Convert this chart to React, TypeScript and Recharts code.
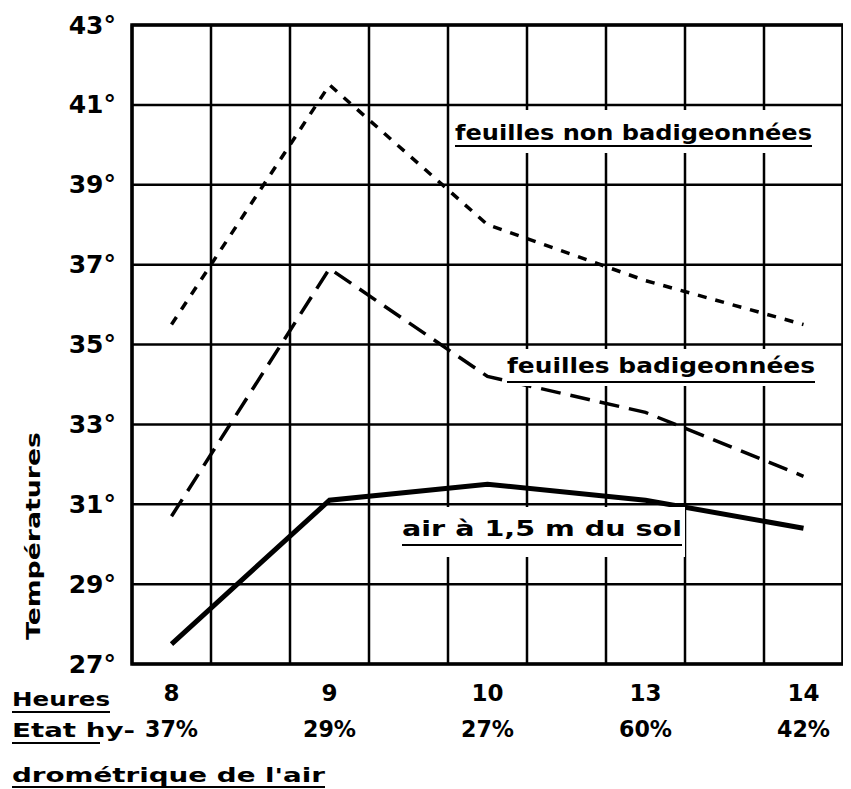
import React from "react";
import { LineChart, Line, XAxis, YAxis, CartesianGrid } from "recharts";

const hours = ["8", "9", "10", "13", "14"];
const humidity = ["37%", "29%", "27%", "60%", "42%"];
const nonBadigeonnees = [35.5, 41.5, 38.0, 36.6, 35.5];
const badigeonnees = [30.7, 36.9, 34.2, 33.3, 31.7];
const airSol = [27.5, 31.1, 31.5, 31.1, 30.4];
const yTicks = [27, 29, 31, 33, 35, 37, 39, 41, 43];

const data = hours.map((h, i) => ({
  hour: h,
  non: nonBadigeonnees[i],
  bad: badigeonnees[i],
  air: airSol[i],
}));

const FONT = "'DejaVu Sans', sans-serif";
const W = 843;
const H = 781;
const MARGIN = { top: 17, right: 8, bottom: 15, left: 24 };
const Y_AXIS_W = 100;
const X_AXIS_H = 110;
const COLS = 9;

const YTick = (props: any) => {
  const { x, y, payload } = props;
  return (
    <text x={x} y={y} textAnchor="end" dominantBaseline="central" fontFamily={FONT} fontWeight="bold" fontSize={25} fill="#000">
      {payload.value}°
    </text>
  );
};

const XTick = (props: any) => {
  const { x, y, payload } = props;
  const i = hours.indexOf(payload.value);
  return (
    <g>
      <text x={x} y={y + 29} textAnchor="middle" dominantBaseline="central" fontFamily={FONT} fontWeight="bold" fontSize={23} fill="#000">
        {payload.value}
      </text>
      <text x={x} y={y + 65} textAnchor="middle" dominantBaseline="central" textLength={53} lengthAdjust="spacingAndGlyphs" fontFamily={FONT} fontWeight="bold" fontSize={23} fill="#000">
        {humidity[i]}
      </text>
    </g>
  );
};

const Annot = ({ box, text, x1, x2, base, ul, size }: any) => (
  <g>
    <rect x={box[0]} y={box[1]} width={box[2]} height={box[3]} fill="#fff" />
    <text x={x1} y={base} textLength={x2 - x1} lengthAdjust="spacingAndGlyphs" fontFamily={FONT} fontWeight="bold" fontSize={size} fill="#000">
      {text}
    </text>
    <line x1={x1} x2={x2} y1={ul} y2={ul} stroke="#000" strokeWidth={2} />
  </g>
);

export default function App() {
  const plotL = MARGIN.left + Y_AXIS_W;
  const plotT = MARGIN.top;
  const plotW = W - plotL - MARGIN.right;
  const plotH = H - MARGIN.top - MARGIN.bottom - X_AXIS_H;
  const pad = plotW / (COLS * 2);
  return (
    <div style={{ position: "relative", width: W, height: H }}>
      <LineChart width={W} height={H} data={data} margin={MARGIN}>
        <CartesianGrid
          stroke="#000"
          strokeWidth={2.5}
          strokeDasharray=""
          verticalCoordinatesGenerator={({ offset }: any) =>
            Array.from({ length: COLS + 1 }, (_, i) => offset.left + (offset.width * i) / COLS)
          }
        />
        <XAxis
          dataKey="hour"
          type="category"
          padding={{ left: pad, right: pad }}
          axisLine={false}
          tickLine={false}
          tickSize={0}
          tickMargin={0}
          height={X_AXIS_H}
          tick={<XTick />}
          interval={0}
        />
        <YAxis
          type="number"
          domain={[27, 43]}
          ticks={yTicks}
          width={Y_AXIS_W}
          axisLine={false}
          tickLine={false}
          tickSize={0}
          tickMargin={16}
          tick={<YTick />}
          interval={0}
        />
        <Line dataKey="non" type="linear" stroke="#000" strokeWidth={3.5} strokeDasharray="9 9" dot={false} isAnimationActive={false} />
        <Line dataKey="bad" type="linear" stroke="#000" strokeWidth={3.5} strokeDasharray="20 10" dot={false} isAnimationActive={false} />
        <Line dataKey="air" type="linear" stroke="#000" strokeWidth={5} dot={false} isAnimationActive={false} />
      </LineChart>
      <svg
        width={W}
        height={H}
        viewBox={`8 8 ${W} ${H}`}
        style={{ position: "absolute", left: 0, top: 0, pointerEvents: "none" }}
      >
        <rect x={plotL + 8} y={plotT + 8} width={plotW} height={plotH} fill="none" stroke="#000" strokeWidth={3.5} />
        <Annot box={[450, 110, 390, 43]} text="feuilles non badigeonnées" x1={455} x2={812} base={140} ul={146} size={22} />
        <Annot box={[503, 349, 337, 37]} text="feuilles badigeonnées" x1={507} x2={815} base={373} ul={382} size={22} />
        <Annot box={[395, 507, 290, 50]} text="air à 1,5 m du sol" x1={402} x2={682} base={536} ul={545} size={22} />
        <text
          transform="translate(40,536) rotate(-90)"
          textAnchor="middle"
          textLength={208}
          lengthAdjust="spacingAndGlyphs"
          fontFamily={FONT}
          fontWeight="bold"
          fontSize={19}
          fill="#000"
        >
          Températures
        </text>
        <text x={12} y={706} textLength={98} lengthAdjust="spacingAndGlyphs" fontFamily={FONT} fontWeight="bold" fontSize={20} fill="#000">Heures</text>
        <line x1={12} x2={110} y1={712} y2={712} stroke="#000" strokeWidth={2} />
        <text x={12} y={737} textLength={123} lengthAdjust="spacingAndGlyphs" fontFamily={FONT} fontWeight="bold" fontSize={20} fill="#000">Etat hy-</text>
        <line x1={12} x2={100} y1={743} y2={743} stroke="#000" strokeWidth={2} />
        <text x={12} y={782} textLength={313} lengthAdjust="spacingAndGlyphs" fontFamily={FONT} fontWeight="bold" fontSize={20} fill="#000">drométrique  de  l'air</text>
        <line x1={12} x2={325} y1={787} y2={787} stroke="#000" strokeWidth={2} />
      </svg>
    </div>
  );
}
